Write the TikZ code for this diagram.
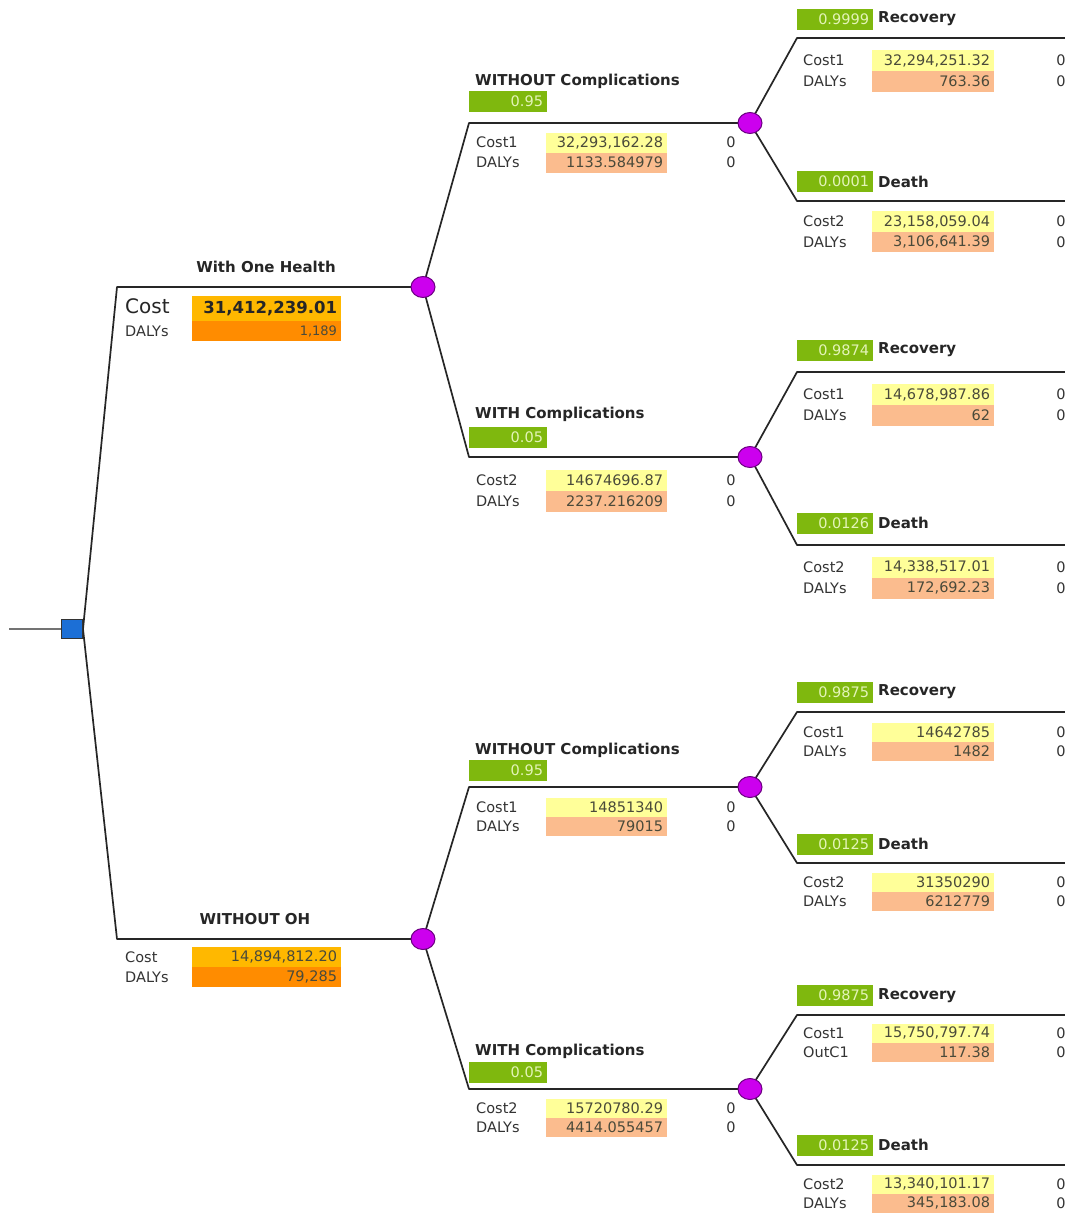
\documentclass[tikz,border=0pt]{standalone}
\usepackage{fontspec}
\setmainfont{DejaVu Sans}
\usetikzlibrary{shapes.geometric,backgrounds}

\definecolor{probgreen}{HTML}{7FB80E}
\definecolor{probtext}{HTML}{E4F4B8}
\definecolor{costyellow}{HTML}{FFFF99}
\definecolor{dalysalmon}{HTML}{FBBC8E}
\definecolor{sumgold}{HTML}{FFB800}
\definecolor{sumorange}{HTML}{FF8C00}
\definecolor{chancefill}{HTML}{CC00EE}
\definecolor{chanceedge}{HTML}{6A0080}
\definecolor{decisionblue}{HTML}{1C6FD6}
\definecolor{inktext}{HTML}{333333}
\definecolor{valtext}{HTML}{4A4A3A}

\tikzset{
  edge/.style={line width=1.7pt, draw=black!85, line join=round},
  stubline/.style={line width=1.3pt, draw=black!55},
  chance/.style={ellipse, fill=chancefill, draw=chanceedge, line width=1pt,
    minimum width=24pt, minimum height=21pt, inner sep=0pt},
  decision/.style={rectangle, fill=decisionblue, draw=black!80, line width=1pt,
    minimum width=21pt, minimum height=19pt, inner sep=0pt},
  lab/.style={inner sep=0pt, font=\fontsize{14.5}{16}\selectfont, text=inktext},
  branchname/.style={inner sep=0pt, font=\bfseries\fontsize{15}{17}\selectfont, text=black!85},
  probtag/.style={fill=probgreen, text=probtext, inner xsep=4pt, inner ysep=0pt,
    minimum height=21pt, align=right, font=\fontsize{14.5}{16}\selectfont, outer sep=0pt},
  valbox/.style={inner xsep=4pt, inner ysep=0pt, text width=113pt, align=right,
    font=\fontsize{14.5}{16}\selectfont, text=valtext, outer sep=0pt},
  costcell/.style={valbox, fill=costyellow},
  dalycell/.style={valbox, fill=dalysalmon},
}

% one payoff row: id, x label, x cell, x zero, y, height, label, value, cell style
\newcommand\payrow[9]{%
  \node[lab, anchor=west] (#1-l) at (#2,#5) {#7};
  \node[#9, minimum height=#6pt, anchor=west] (#1-v) at (#3,#5) {#8};
  \node[lab] (#1-z) at (#4,#5) {0};}

% probability tag: id, x, y, text width, value
\newcommand\probtagnode[5]{%
  \node[probtag, text width=#4pt, anchor=west] (#1) at (#2,#3) {#5};}

\begin{document}
\begin{tikzpicture}[x=1pt,y=-1pt]
\clip (0,0) rectangle (1065,1213);

% ---------- decision and chance nodes ----------
\node[decision] (root) at (72,629) {};
\coordinate (stub) at (9,629);

\node[chance] (oh) at (423,287) {};
\node[chance] (nooh) at (423,939) {};
\node[chance] (ohA) at (750,123) {};
\node[chance] (ohB) at (750,457) {};
\node[chance] (noA) at (750,787) {};
\node[chance] (noB) at (750,1089) {};

% branch corners
\coordinate (kOH) at (117,287);
\coordinate (kNO) at (117,939);
\coordinate (kohA) at (469,123);
\coordinate (kohB) at (469,457);
\coordinate (knoA) at (469,787);
\coordinate (knoB) at (469,1089);

\coordinate (l1) at (797,38);   \coordinate (e1) at (1075,38);
\coordinate (l2) at (797,201);  \coordinate (e2) at (1075,201);
\coordinate (l3) at (797,372);  \coordinate (e3) at (1075,372);
\coordinate (l4) at (797,545);  \coordinate (e4) at (1075,545);
\coordinate (l5) at (797,712);  \coordinate (e5) at (1075,712);
\coordinate (l6) at (797,863);  \coordinate (e6) at (1075,863);
\coordinate (l7) at (797,1015); \coordinate (e7) at (1075,1015);
\coordinate (l8) at (797,1165); \coordinate (e8) at (1075,1165);

% ---------- connectors (behind the nodes) ----------
\begin{pgfonlayer}{background}
\fill[white] (0,0) rectangle (1065,1213);
\draw[stubline] (stub) -- (root.west);
\draw[edge] (root.east) -- (kOH) -- (oh.center);
\draw[edge] (root.east) -- (kNO) -- (nooh.center);

\draw[edge] (oh.center) -- (kohA) -- (ohA.center);
\draw[edge] (oh.center) -- (kohB) -- (ohB.center);
\draw[edge] (nooh.center) -- (knoA) -- (noA.center);
\draw[edge] (nooh.center) -- (knoB) -- (noB.center);

\draw[edge] (ohA.center) -- (l1) -- (e1);
\draw[edge] (ohA.center) -- (l2) -- (e2);
\draw[edge] (ohB.center) -- (l3) -- (e3);
\draw[edge] (ohB.center) -- (l4) -- (e4);
\draw[edge] (noA.center) -- (l5) -- (e5);
\draw[edge] (noA.center) -- (l6) -- (e6);
\draw[edge] (noB.center) -- (l7) -- (e7);
\draw[edge] (noB.center) -- (l8) -- (e8);
\end{pgfonlayer}

% ---------- first level: strategies ----------
\node[branchname] (tOH) at (266,267) {With One Health};
\node[lab, anchor=west, font=\fontsize{20}{22}\selectfont, text=black!85] (ohCostL) at (125,306) {Cost};
\node[lab, anchor=west] (ohDalyL) at (125,331) {DALYs};
\node[valbox, fill=sumgold, text width=141pt, minimum height=25pt, anchor=north west,
      font=\bfseries\fontsize{16.5}{18}\selectfont, text=black!85] (ohCostV) at (192,296) {31,412,239.01};
\node[valbox, fill=sumorange, text width=141pt, minimum height=20pt, anchor=north west,
      font=\fontsize{13}{15}\selectfont] (ohDalyV) at (192,321) {1,189};

\node[branchname] (tNO) at (255,919) {WITHOUT OH};
\node[lab, anchor=west] (noCostL) at (125,957) {Cost};
\node[lab, anchor=west] (noDalyL) at (125,977) {DALYs};
\node[valbox, fill=sumgold, text width=141pt, minimum height=20pt, anchor=north west] (noCostV) at (192,947) {14,894,812.20};
\node[valbox, fill=sumorange, text width=141pt, minimum height=20pt, anchor=north west] (noDalyV) at (192,967) {79,285};

% ---------- second level: complications ----------
\node[branchname, anchor=west] (tohA) at (475,81) {WITHOUT Complications};
\probtagnode{pohA}{469}{101.5}{70}{0.95}
\payrow{ohA1}{476}{546}{731}{142.5}{20}{Cost1}{32,293,162.28}{costcell}
\payrow{ohA2}{476}{546}{731}{162.5}{20}{DALYs}{1133.584979}{dalycell}

\node[branchname, anchor=west] (tohB) at (475,414) {WITH Complications};
\probtagnode{pohB}{469}{437}{70}{0.05}
\payrow{ohB1}{476}{546}{731}{480}{21}{Cost2}{14674696.87}{costcell}
\payrow{ohB2}{476}{546}{731}{501}{21}{DALYs}{2237.216209}{dalycell}

\node[branchname, anchor=west] (tnoA) at (475,750) {WITHOUT Complications};
\probtagnode{pnoA}{469}{770.5}{70}{0.95}
\payrow{noA1}{476}{546}{731}{807}{19}{Cost1}{14851340}{costcell}
\payrow{noA2}{476}{546}{731}{826}{19}{DALYs}{79015}{dalycell}

\node[branchname, anchor=west] (tnoB) at (475,1051) {WITH Complications};
\probtagnode{pnoB}{469}{1072}{70}{0.05}
\payrow{noB1}{476}{546}{731}{1108}{19}{Cost2}{15720780.29}{costcell}
\payrow{noB2}{476}{546}{731}{1127}{19}{DALYs}{4414.055457}{dalycell}

% ---------- third level: outcomes ----------
\tikzset{leafcost/.style={costcell, text width=114pt}, leafdaly/.style={dalycell, text width=114pt}}

\probtagnode{p1}{797}{19}{68}{0.9999}
\node[branchname, anchor=west] (o1) at (878,19) {Recovery};
\payrow{r1a}{803}{872}{1061}{60.5}{21}{Cost1}{32,294,251.32}{leafcost}
\payrow{r1b}{803}{872}{1061}{81.5}{21}{DALYs}{763.36}{leafdaly}

\probtagnode{p2}{797}{181.5}{68}{0.0001}
\node[branchname, anchor=west] (o2) at (878,181.5) {Death};
\payrow{r2a}{803}{872}{1061}{221.5}{20.5}{Cost2}{23,158,059.04}{leafcost}
\payrow{r2b}{803}{872}{1061}{242}{20.5}{DALYs}{3,106,641.39}{leafdaly}

\probtagnode{p3}{797}{350}{68}{0.9874}
\node[branchname, anchor=west] (o3) at (878,350) {Recovery};
\payrow{r3a}{803}{872}{1061}{394.5}{21}{Cost1}{14,678,987.86}{leafcost}
\payrow{r3b}{803}{872}{1061}{415.5}{21}{DALYs}{62}{leafdaly}

\probtagnode{p4}{797}{523}{68}{0.0126}
\node[branchname, anchor=west] (o4) at (878,523) {Death};
\payrow{r4a}{803}{872}{1061}{567}{21}{Cost2}{14,338,517.01}{leafcost}
\payrow{r4b}{803}{872}{1061}{588}{21}{DALYs}{172,692.23}{leafdaly}

\probtagnode{p5}{797}{692}{68}{0.9875}
\node[branchname, anchor=west] (o5) at (878,692) {Recovery};
\payrow{r5a}{803}{872}{1061}{732}{19}{Cost1}{14642785}{leafcost}
\payrow{r5b}{803}{872}{1061}{751}{19}{DALYs}{1482}{leafdaly}

\probtagnode{p6}{797}{844}{68}{0.0125}
\node[branchname, anchor=west] (o6) at (878,844) {Death};
\payrow{r6a}{803}{872}{1061}{882}{19}{Cost2}{31350290}{leafcost}
\payrow{r6b}{803}{872}{1061}{901}{19}{DALYs}{6212779}{leafdaly}

\probtagnode{p7}{797}{995.5}{68}{0.9875}
\node[branchname, anchor=west] (o7) at (878,995.5) {Recovery};
\payrow{r7a}{803}{872}{1061}{1033}{19}{Cost1}{15,750,797.74}{leafcost}
\payrow{r7b}{803}{872}{1061}{1052}{19}{OutC1}{117.38}{leafdaly}

\probtagnode{p8}{797}{1145}{68}{0.0125}
\node[branchname, anchor=west] (o8) at (878,1145) {Death};
\payrow{r8a}{803}{872}{1061}{1184}{19}{Cost2}{13,340,101.17}{leafcost}
\payrow{r8b}{803}{872}{1061}{1203}{19}{DALYs}{345,183.08}{leafdaly}
\end{tikzpicture}
\end{document}
